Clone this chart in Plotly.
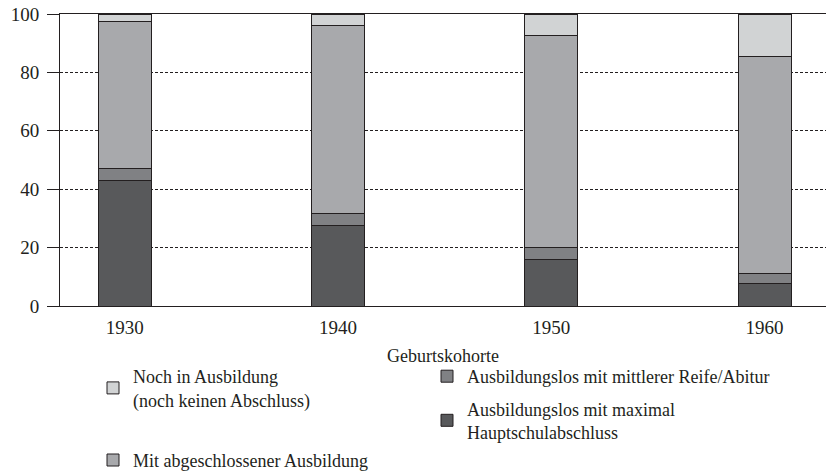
import plotly.graph_objects as go

cohorts = ["1930", "1940", "1950", "1960"]
hauptschule = [43.0, 27.6, 15.9, 7.8]
mittlere_reife = [4.2, 4.1, 4.3, 3.4]
abgeschlossen = [50.2, 64.3, 72.4, 74.3]
noch_in_ausbildung = [2.6, 4.0, 7.4, 14.5]

names = {
    "noch": "Noch in Ausbildung<br>(noch keinen Abschluss)",
    "mit": "Mit abgeschlossener Ausbildung",
    "mittlere": "Ausbildungslos mit mittlerer Reife/Abitur",
    "haupt": "Ausbildungslos mit maximal<br>Hauptschulabschluss",
}

FONT = "Liberation Serif"
outline = dict(color="#231f20", width=1)
xpos = list(range(len(cohorts)))

fig = go.Figure()
fig.add_trace(go.Bar(x=xpos, y=hauptschule, name=names["haupt"], width=0.248,
                     marker=dict(color="#58595b", line=outline), legend="legend2",
                     legendrank=2, legendgroup="haupt"))
fig.add_trace(go.Bar(x=xpos, y=mittlere_reife, name=names["mittlere"], width=0.248,
                     marker=dict(color="#808184", line=outline), legend="legend2",
                     legendrank=1, legendgroup="mittlere"))
fig.add_trace(go.Bar(x=xpos, y=abgeschlossen, name=names["mit"], width=0.248,
                     marker=dict(color="#a8a9ac", line=outline), legend="legend",
                     legendrank=2, legendgroup="mit"))
fig.add_trace(go.Bar(x=xpos, y=noch_in_ausbildung, name=names["noch"], width=0.248,
                     marker=dict(color="#d1d3d4", line=outline), legend="legend",
                     legendrank=1, legendgroup="noch"))

legend_common = dict(
    orientation="v", xanchor="left", yanchor="top",
    xref="container", yref="container",
    font=dict(family=FONT, size=18, color="#231f20"),
    bgcolor="rgba(0,0,0,0)", traceorder="grouped",
    itemclick=False, itemdoubleclick=False,
)

fig.update_layout(
    width=826, height=475,
    barmode="stack",
    plot_bgcolor="white", paper_bgcolor="white",
    margin=dict(l=60, r=0, t=14, b=169, autoexpand=False),
    font=dict(family=FONT, size=18, color="#231f20"),
    legend=dict(x=93 / 826, y=1 - 358 / 475, tracegroupgap=34, **legend_common),
    legend2=dict(x=427 / 826, y=1 - 358 / 475, tracegroupgap=6, **legend_common),
    xaxis=dict(
        range=[-0.303, 3.288],
        tickmode="array", tickvals=xpos, ticktext=cohorts,
        showline=True, linecolor="#231f20", linewidth=1, mirror=True,
        showgrid=False, ticks="", zeroline=False,
        title=dict(text="Geburtskohorte", standoff=12, font=dict(family=FONT, size=18)),
        tickfont=dict(family=FONT, size=19),
        ticklabelstandoff=4,
    ),
    yaxis=dict(
        range=[0, 100], tickvals=[0, 20, 40, 60, 80, 100],
        showline=True, linecolor="#231f20", linewidth=1,
        ticks="outside", ticklen=12, tickcolor="#231f20", tickwidth=1,
        showgrid=True, gridcolor="#231f20", griddash="3px,2px", gridwidth=1,
        zeroline=False, tickfont=dict(family=FONT, size=19),
        ticklabelstandoff=4,
    ),
    showlegend=True,
)

# remove the default 8px page margin so the figure sits at the window origin
fig.write_html("out.html", config={"displayModeBar": False},
               post_script="document.body.style.margin='0';")
